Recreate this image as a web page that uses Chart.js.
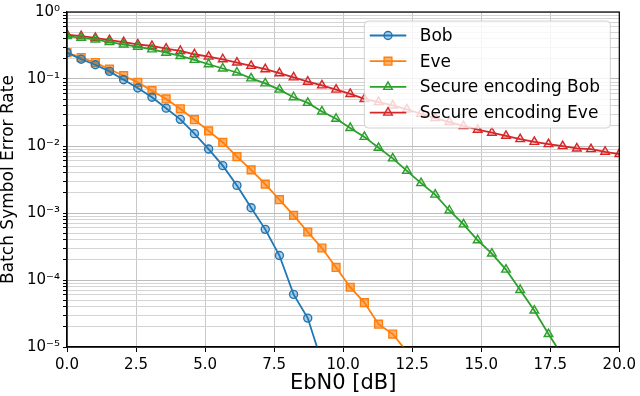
<!DOCTYPE html>
<html>
<head>
<meta charset="utf-8">
<script src="https://cdn.jsdelivr.net/npm/chart.js@4.4.0/dist/chart.umd.min.js"></script>
<style>
body{margin:0;background:#fff;}
</style>
</head>
<body>
<canvas id="grafico" width="640" height="396"></canvas>
<script>
//DATOS
const ebn0=[0,0.513,1.026,1.538,2.051,2.564,3.077,3.590,4.103,4.615,5.128,5.641,6.154,6.667,7.179,7.692,8.205,8.718,9.231,9.744,
    10.256,10.769,11.282,11.795,12.308,12.821,13.333,13.846,14.359,14.872,15.385,15.897,16.410,16.923,17.436,17.949,18.462,18.974,19.487,20];

const bob=[0.247,0.197,0.163,0.130,0.0977,0.0733,0.0535,0.0367,0.0250,0.0153,0.0090,0.00509,0.00258,0.00120,0.00057,0.000232,0.000061,0.000027,0.0000059];

const eve=[0.247,0.209,0.176,0.140,0.112,0.089,0.067,0.0504,0.0359,0.0247,0.0168,0.0113,0.00692,0.00440,0.00270,0.00158,0.00092,0.00052,0.00030,0.000154,
    0.000078,0.000046,0.0000219,0.0000156,0.0000085];

const secureBob=[0.437,0.412,0.389,0.356,0.328,0.303,0.277,0.247,0.221,0.193,0.166,0.1435,0.125,0.102,0.0861,0.0695,0.0534,0.044,0.0328,0.0255,
    0.0186,0.01367,0.0094,0.00653,0.00426,0.00279,0.00188,0.00109,0.000676,0.000392,0.000248,0.000143,0.000071,0.000035,0.0000156,0.0000073];

const secureEve=[0.461,0.437,0.412,0.381,0.356,0.328,0.311,0.284,0.262,0.234,0.216,0.197,0.176,0.157,0.140,0.122,0.1056,0.0912,0.0804,0.0695,
    0.0598,0.0504,0.0451,0.0403,0.0352,0.0303,0.0261,0.0228,0.0199,0.0175,0.0158,0.0142,0.01265,0.01154,0.01067,0.00997,0.00919,0.00899,0.0082,0.00759];

const nombres=['Bob','Eve','Secure encoding Bob','Secure encoding Eve'];
const xTicks=[0,2.5,5,7.5,10,12.5,15,17.5,20];
const decadas=[-5,-4,-3,-2,-1,0];

//ESTILO
const colores=['#1f77b4','#ff7f0e','#2ca02c','#d62728'];
const rellenos=['rgba(31,119,180,0.35)','rgba(255,127,14,0.6)','rgba(44,160,44,0.15)','rgba(214,39,40,0.15)'];
const marcas=['circle','rect','triangle','triangle'];
const radios=[4,5.5,5,5];
const fuente='"DejaVu Sans", sans-serif';

//TICKS DEL EJE Y (mayores y menores)
let yTicks=[];
for(let d of decadas){
    if(d==0){ yTicks.push(1); continue; }
    for(let m=1;m<10;m++){
        yTicks.push(Number((m*Math.pow(10,d)).toPrecision(6)));
    }
}

const sup={'-':'\u207B','0':'\u2070','1':'\u00B9','2':'\u00B2','3':'\u00B3','4':'\u2074','5':'\u2075'};
function esDecada(v){
    let l=Math.log10(v);
    return Math.abs(l-Math.round(l))<1e-9;
}
function etiquetaY(v){
    if(!esDecada(v)) return '';
    let e=String(Math.round(Math.log10(v)));
    return '10'+e.split('').map(c=>sup[c]).join('');
}

function serie(i,valores){
    return {
        label: nombres[i],
        data: valores.map((y,k)=>({x: ebn0[k], y: y})),
        borderColor: colores[i],
        backgroundColor: rellenos[i],
        borderWidth: 1.8,
        pointStyle: marcas[i],
        pointRadius: radios[i],
        pointBorderWidth: 1.4,
        pointBorderColor: colores[i],
        pointBackgroundColor: rellenos[i],
        tension: 0
    };
}

//MARCO NEGRO ALREDEDOR DEL AREA
const marco={
    id:'marco',
    afterDatasetsDraw(chart){
        const {ctx,chartArea}=chart;
        ctx.save();
        ctx.strokeStyle='#000';
        ctx.lineWidth=1.2;
        ctx.strokeRect(chartArea.left,chartArea.top,chartArea.right-chartArea.left,chartArea.bottom-chartArea.top);
        ctx.restore();
    }
};

//LEYENDA DENTRO DEL GRAFICO
const leyenda={
    id:'leyenda',
    afterDatasetsDraw(chart){
        const {ctx,chartArea}=chart;
        const w=246, h=107;
        const x0=chartArea.right-9-w, y0=chartArea.top+9;
        ctx.save();
        ctx.beginPath();
        ctx.roundRect(x0,y0,w,h,4);
        ctx.fillStyle='rgba(255,255,255,0.8)';
        ctx.fill();
        ctx.strokeStyle='rgba(204,204,204,0.9)';
        ctx.lineWidth=1;
        ctx.stroke();
        chart.data.datasets.forEach((ds,i)=>{
            const y=y0+14.5+i*25.7;
            ctx.strokeStyle=ds.borderColor;
            ctx.lineWidth=ds.borderWidth;
            ctx.beginPath();
            ctx.moveTo(x0+5.5,y);
            ctx.lineTo(x0+42,y);
            ctx.stroke();
            ctx.fillStyle=ds.pointBackgroundColor;
            ctx.strokeStyle=ds.pointBorderColor;
            ctx.lineWidth=ds.pointBorderWidth;
            Chart.helpers.drawPoint(ctx,{pointStyle:ds.pointStyle,radius:ds.pointRadius,borderWidth:ds.pointBorderWidth,rotation:0},x0+23.7,y);
            ctx.fillStyle='#000';
            ctx.font='17px '+fuente;
            ctx.textBaseline='middle';
            ctx.textAlign='left';
            ctx.fillText(ds.label,x0+55.5,y+1);
        });
        ctx.restore();
    }
};

const canvas=document.querySelector('#grafico');
const grafico=new Chart(canvas,{
    type:'line',
    data:{
        datasets:[
            serie(0,bob),
            serie(1,eve),
            serie(2,secureBob),
            serie(3,secureEve)
        ]
    },
    options:{
        responsive:false,
        animation:false,
        devicePixelRatio:1,
        layout:{padding:{top:9,right:18,left:0,bottom:0}},
        plugins:{legend:{display:false},tooltip:{enabled:false}},
        scales:{
            x:{
                type:'linear',
                min:0,
                max:20,
                afterBuildTicks:(scale)=>{ scale.ticks=xTicks.map(v=>({value:v})); },
                afterFit:(scale)=>{ scale.height=49; },
                ticks:{
                    color:'#000',
                    font:{family:fuente,size:15},
                    padding:4,
                    maxRotation:0,
                    autoSkip:false,
                    callback:(v)=>Number(v).toFixed(1)
                },
                grid:{color:'#c8c8c8',lineWidth:1,tickLength:5,tickColor:'#000'},
                border:{color:'#000',width:1.2},
                title:{display:true,text:'EbN0 [dB]',color:'#000',font:{family:fuente,size:21,lineHeight:1.2},padding:{top:0,bottom:0}}
            },
            y:{
                type:'logarithmic',
                min:1e-5,
                max:1,
                afterBuildTicks:(scale)=>{ scale.ticks=yTicks.map(v=>({value:v,major:esDecada(v)})); },
                afterFit:(scale)=>{ scale.width=67; },
                ticks:{
                    color:'#000',
                    font:{family:fuente,size:15},
                    padding:3,
                    autoSkip:false,
                    callback:(v)=>etiquetaY(v)
                },
                grid:{
                    color:(c)=>(c.tick && esDecada(c.tick.value)) ? '#bcbcbc' : '#d4d4d4',
                    lineWidth:1,
                    tickLength:4,
                    tickColor:'#000'
                },
                border:{color:'#000',width:1.2},
                title:{display:true,text:'Batch Symbol Error Rate',color:'#000',font:{family:fuente,size:17,lineHeight:1.0},padding:{top:0,bottom:0}}
            }
        }
    },
    plugins:[marco,leyenda]
});
</script>
</body>
</html>
